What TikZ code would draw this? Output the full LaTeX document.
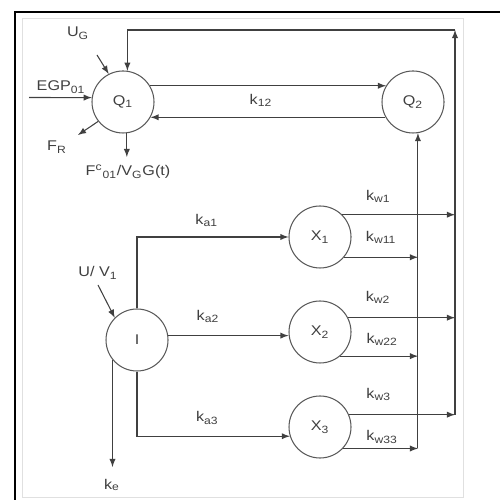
\documentclass[tikz,border=0pt]{standalone}
\usepackage{fontspec}
\setmainfont[FakeStretch=1.15]{Liberation Sans}
\usepackage{tikz}
\newcommand{\lblfont}{\fontsize{8}{9.6}\selectfont}

\begin{document}
\begin{tikzpicture}[
  comp/.style={draw=black!65, line width=0.6pt, circle, minimum size=1.24cm, inner sep=0pt, font=\lblfont, text=black!75},
  flujo/.style={->, >=latex, draw=black!75, line width=0.6pt},
  etiqueta/.style={font=\lblfont, text=black!75, inner sep=1pt}]
\useasboundingbox (0,0) rectangle (10,10);
% marco
\draw[black!12, line width=0.5pt] (0.44,0.06) rectangle (9.26,9.64);
\draw[line width=1.1pt] (0.3,0) -- (0.3,9.76) -- (10,9.76);
% compartimentos
\node[comp] (Q1) at (2.46,7.96) {Q\textsubscript{1}};
\node[comp] (Q2) at (8.26,7.96) {Q\textsubscript{2}};
\node[comp] (I) at (2.74,3.2) {I};
\node[comp] (X1) at (6.4,5.26) {X\textsubscript{1}};
\node[comp] (X2) at (6.4,3.36) {X\textsubscript{2}};
\node[comp] (X3) at (6.4,1.46) {X\textsubscript{3}};
% puntos libres
\coordinate (tr) at (9.1,9.4);
\coordinate (bo) at (9.1,1.7);
\coordinate (bi) at (8.36,1.04);
\coordinate (ug) at (1.94,8.9);
\coordinate (egp) at (0.58,8.05);
\coordinate (fr) at (1.56,7.3);
\coordinate (fc) at (2.54,6.86);
\coordinate (uv) at (1.96,4.3);
\coordinate (ke) at (2.24,0.66);
% etiquetas
\node[etiqueta] (lug) at (1.56,9.34) {U\textsubscript{G}};
\node[etiqueta] (legp) at (1.22,8.26) {EGP\textsubscript{01}};
\node[etiqueta] (lfr) at (1.14,7.06) {F\textsubscript{R}};
\node[etiqueta] (lfc) at (2.56,6.56) {F\textsuperscript{c}\textsubscript{01}/V\textsubscript{G}G(t)};
\node[etiqueta] (luv) at (1.96,4.54) {U/ V\textsubscript{1}};
\node[etiqueta] (lke) at (2.24,0.3) {k\textsubscript{e}};
% Q1
\draw[flujo] (ug) -- (Q1.117);
\draw[flujo] (egp) -- (Q1.172);
\draw[flujo] (Q1.218) -- (fr);
\draw[flujo] (Q1.-83) -- (Q1.-83 |- fc);
\draw[flujo] (Q1.31) -- node[etiqueta, pos=0.47, below=3.5pt]{k\textsubscript{12}} (Q2.149);
\draw[flujo] (Q2.-151) -- (Q1.-29);
\draw[flujo] (bo) -- (tr);
\draw[flujo] (tr) -| (Q1.82);
\draw[flujo] (Q2.-81 |- bi) -- (Q2.-81);
% I
\draw[flujo] (uv) -- (I.135);
\draw[flujo] (I.219) -- (I.219 |- ke);
\draw[flujo] (I.north) |- node[etiqueta, pos=0.73, above=4.5pt]{k\textsubscript{a1}} (X1.west);
\draw[flujo] (I.8) -- node[etiqueta, pos=0.33, above=6pt]{k\textsubscript{a2}} (I.8 -| X2.west);
\draw[flujo] (I.south) |- node[etiqueta, pos=0.73, above=5.5pt]{k\textsubscript{a3}} (X3.197);
% salidas
\draw[flujo] (X1.45) -- node[etiqueta, pos=0.32, above=5.5pt]{k\textsubscript{w1}} (X1.45 -| bo);
\draw[flujo] (X1.-40) -- node[etiqueta, pos=0.5, above=6.5pt]{k\textsubscript{w11}} (X1.-40 -| bi);
\draw[flujo] (X2.27) -- node[etiqueta, pos=0.28, above=6.5pt]{k\textsubscript{w2}} (X2.27 -| bo);
\draw[flujo] (X2.-50) -- node[etiqueta, pos=0.54, above=4.5pt]{k\textsubscript{w22}} (X2.-50 -| bi);
\draw[flujo] (X3.23) -- node[etiqueta, pos=0.28, above=6.5pt]{k\textsubscript{w3}} (X3.23 -| bo);
\draw[flujo] (X3.-43) -- node[etiqueta, pos=0.52, above=1.5pt]{k\textsubscript{w33}} (X3.-43 -| bi);
\end{tikzpicture}
\end{document}
